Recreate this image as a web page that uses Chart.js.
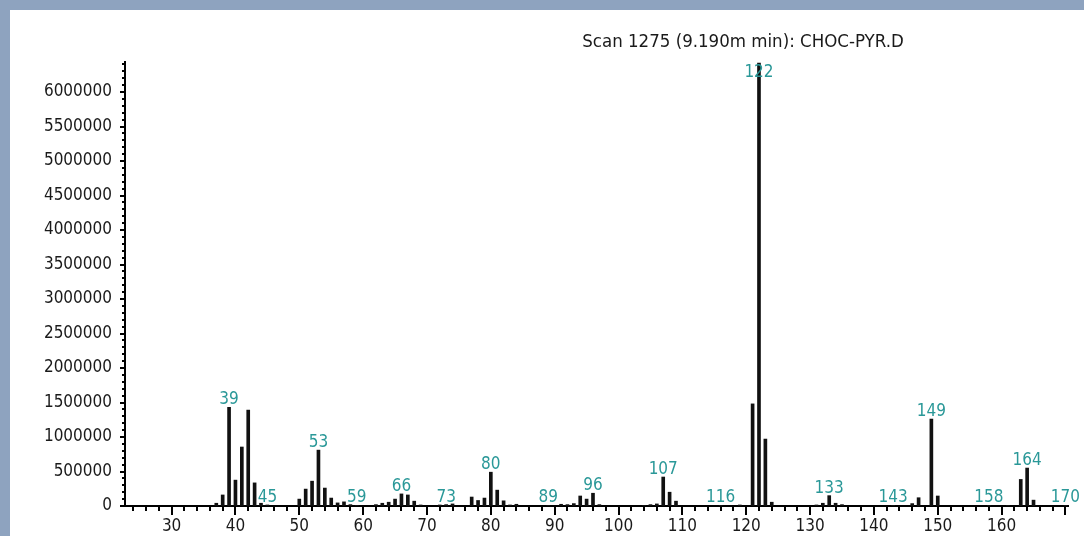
<!DOCTYPE html>
<html>
<head>
<meta charset="utf-8">
<script src="https://cdn.jsdelivr.net/npm/chart.js@4.4.1/dist/chart.umd.min.js"></script>
<style>
  html, body { margin: 0; padding: 0; background: #8ea3bf; }
  #frame { position: absolute; left: 10px; top: 10px; width: 1074px; height: 526px; background: #ffffff; }
  canvas { display: block; }
</style>
</head>
<body>
<div id="frame"><canvas id="spectrum" width="1074" height="526"></canvas></div>
<script>
const titleText = 'Scan 1275 (9.190m min): CHOC-PYR.D';

// m/z values and their abundances
const massValues = [37, 38, 39, 40, 41, 42, 43, 44, 45,
    50, 51, 52, 53, 54, 55, 56, 57, 58, 59,
    62, 63, 64, 65, 66, 67, 68, 69, 72, 73, 74,
    77, 78, 79, 80, 81, 82, 83, 84, 89,
    91, 92, 93, 94, 95, 96, 97,
    104, 105, 106, 107, 108, 109, 116, 119,
    121, 122, 123, 124, 131, 132, 133, 134, 135,
    143, 146, 147, 149, 150, 158, 161, 163, 164, 165, 170];
const abundance = [40000, 160000, 1430000, 375000, 855000, 1390000, 335000, 40000, 15000,
    100000, 245000, 360000, 810000, 260000, 115000, 45000, 60000, 20000, 10000,
    20000, 40000, 55000, 100000, 175000, 160000, 70000, 15000, 15000, 20000, 30000,
    130000, 80000, 115000, 490000, 230000, 75000, 15000, 25000, 10000,
    25000, 20000, 35000, 145000, 100000, 185000, 20000,
    10000, 20000, 30000, 420000, 200000, 70000, 10000, 15000,
    1480000, 6420000, 970000, 55000, 15000, 40000, 150000, 40000, 20000,
    10000, 35000, 120000, 1260000, 145000, 10000, 10000, 385000, 550000, 85000, 10000];

// peaks that carry a teal m/z label
const peakLabels = [39, 45, 53, 59, 66, 73, 80, 89, 96, 107, 116, 122, 133, 143, 149, 158, 164, 170];

const xTickLabels = [30, 40, 50, 60, 70, 80, 90, 100, 110, 120, 130, 140, 150, 160];
const yTickLabels = [0, 500000, 1000000, 1500000, 2000000, 2500000, 3000000,
    3500000, 4000000, 4500000, 5000000, 5500000, 6000000];

const fontFamily = "'DejaVu Sans Condensed', 'Liberation Sans Narrow', sans-serif";
const teal = '#2a9898';

Chart.defaults.font.family = fontFamily;
Chart.defaults.color = '#1a1a1a';

// minor / major tick marks like the instrument plot
const tickMarks = {
    id: 'tickMarks',
    afterDraw(chart) {
        const { ctx, scales: { x, y } } = chart;
        ctx.save();
        ctx.strokeStyle = '#000';
        ctx.lineWidth = 2;
        ctx.beginPath();
        for (let v = 24; v <= 170; v += 2) {
            const px = Math.round(x.getPixelForValue(v));
            const len = v % 10 === 0 ? 9 : 5;
            ctx.moveTo(px, x.top);
            ctx.lineTo(px, x.top + len);
        }
        for (let v = 0; v <= y.max; v += 100000) {
            const py = Math.round(y.getPixelForValue(v));
            const len = v % 500000 === 0 ? 5 : 3;
            ctx.moveTo(y.right, py);
            ctx.lineTo(y.right - len, py);
        }
        ctx.stroke();
        ctx.restore();
    }
};

// teal m/z labels over the peaks and the scan title
const peakText = {
    id: 'peakText',
    afterDatasetsDraw(chart) {
        const { ctx, chartArea, scales: { x, y } } = chart;
        ctx.save();
        ctx.font = '17px ' + fontFamily;
        ctx.fillStyle = teal;
        ctx.textAlign = 'center';
        ctx.textBaseline = 'alphabetic';
        peakLabels.forEach(m => {
            const i = massValues.indexOf(m);
            const top = y.getPixelForValue(abundance[i]);
            const base = Math.max(top - 3, chartArea.top + 15);
            ctx.fillText(String(m), x.getPixelForValue(m), base);
        });
        ctx.font = '18.5px ' + fontFamily;
        ctx.fillStyle = '#1a1a1a';
        ctx.textBaseline = 'middle';
        ctx.fillText(titleText, 733, 32);
        ctx.restore();
    }
};

new Chart(document.getElementById('spectrum'), {
    type: 'bar',
    data: {
        datasets: [{
            data: massValues.map((m, i) => ({ x: m, y: abundance[i] })),
            backgroundColor: '#111111',
            borderWidth: 0,
            barThickness: 3,
            grouped: false
        }]
    },
    options: {
        responsive: false,
        devicePixelRatio: 1,
        animation: false,
        layout: { padding: { top: 52, right: 16, left: 0, bottom: 0 } },
        plugins: {
            legend: { display: false },
            tooltip: { enabled: false }
        },
        scales: {
            x: {
                type: 'linear',
                offset: false,
                min: 22.7,
                max: 170.4,
                afterBuildTicks: s => { s.ticks = xTickLabels.map(v => ({ value: v })); },
                afterFit: s => { s.height = 30; },
                grid: { display: false, drawTicks: false, offset: false },
                border: { display: true, color: '#000', width: 2 },
                ticks: { padding: 10, font: { size: 17 }, maxRotation: 0, autoSkip: false,
                    callback: v => String(v) }
            },
            y: {
                min: 0,
                max: 6435000,
                afterBuildTicks: s => { s.ticks = yTickLabels.map(v => ({ value: v })); },
                afterFit: s => { s.width = 115; },
                grid: { display: false, drawTicks: false },
                border: { display: true, color: '#000', width: 2 },
                ticks: { padding: 13, font: { size: 17 }, autoSkip: false,
                    callback: v => String(v) }
            }
        }
    },
    plugins: [tickMarks, peakText]
});
</script>
</body>
</html>
